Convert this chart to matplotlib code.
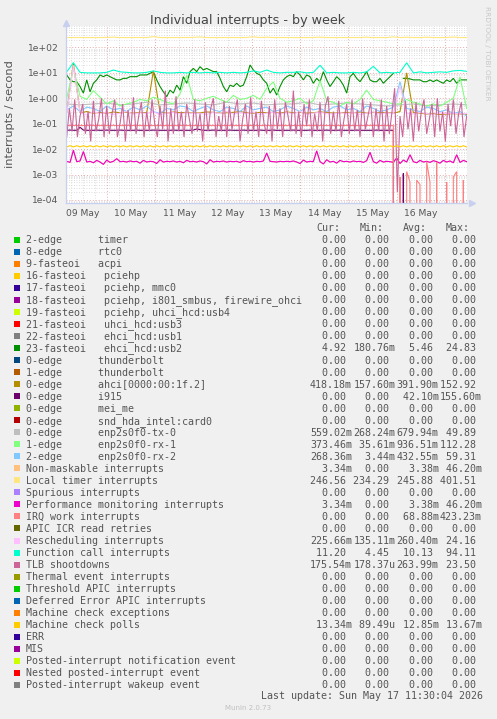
import numpy as np
import matplotlib
matplotlib.use("Agg")
import matplotlib.pyplot as plt
from matplotlib.patches import Rectangle
from matplotlib.ticker import FixedLocator, FuncFormatter, NullFormatter

W, H = 497, 719
nan = float("nan")

# data runs from 09 May ~04:00 to 17 May ~10:45 (x in days since 09 May 00:00)
t_first, t_last = 0.166, 8.447
day_names = ["09 May", "10 May", "11 May", "12 May", "13 May", "14 May", "15 May", "16 May"]

# 23-fasteoi ehci_hcd:usb2
usb2 = [8.3, 5.3, 4.5, 4.5, 2.9, 1.6, 5.3, 1.8, 3.9, 5.3,
        8.3, 7.1, 8.3, 7.1, 6.1, 5.3, 5.3, 6.1, 6.1, 7.1,
        7.1, 7.1, 8.3, 8.3, 8.3, 9.6, 11.2, 5.3, 2.9, 1.8,
        1.16, 2.1, 1.6, 3.3, 2.1, 7.1, 3.9, 11.2, 15.0, 11.2,
        17.6, 13.0, 15.0, 13.0, 11.2, 11.2, 6.1, 2.9, 1.8, 3.3,
        2.9, 3.9, 2.9, 3.3, 7.1, 20.5, 13.0, 9.6, 8.3, 5.3,
        3.9, 1.6, 2.5, 1.35, 2.9, 5.3, 7.1, 8.3, 7.1, 11.2,
        8.3, 5.3, 8.3, 7.1, 3.9, 6.1, 4.5, 11.2, 5.3, 2.9,
        4.5, 7.1, 5.3, 3.3, 1.6, 7.1, 9.6, 6.1, 4.5, 7.1,
        11.2, 5.3, 4.5, 4.5, 6.1, 3.9, 5.3, 7.1, 9.6, nan,
        nan, 6.1, 6.1, 5.8, 5.3, 5.3, 5.3, 4.5, 4.5, 5.3,
        4.5, 5.3, 4.5, 3.9, 5.3, 4.5, 6.1, 3.9, 5.3, 5.3, 5.3]

# ahci[0000:00:1f.2]
ahci = [0.28, 25, 0.27, 0.3, 0.26, 0.28, 0.25, 0.29, 0.27, 0.28,
        0.26, 0.28, 0.27, 12, 0.28, 0.26, 0.29, 0.27, 0.28, 0.26,
        0.27, 0.29, 0.28, 0.26, 0.27, 0.28, 0.3, 0.27, 0.26, 0.28,
        0.27, 0.28, 0.26, 0.29, 0.27, 0.28, 0.26, 0.27, 0.29, 0.28,
        0.26, 0.27, 0.28, 0.27, 0.29, 0.26, 0.28, 0.27, 0.28, 0.26,
        0.3, 10, 0.27, 0.26, 0.24, 0.25, 0.23, 0.24, 0.25, 0.24, 0.23]

# i915
i915 = [0.055, 0.056, 0.055, 0.055, 0.072, 0.056, 0.055, 0.055, 0.055, 0.056,
        0.055, 0.055, 0.056, 0.055, 0.055, 0.055, 0.056, 0.055, 0.055, 0.055,
        0.055, 0.056, 0.055, 0.055, 0.055, 0.055, 0.056, 0.055, 0.055, 0.055,
        0.055, 0.055, 0.056, 0.055, 0.055, 0.055, 0.055, 0.055, 0.056, 0.062,
        0.058, 0.055, 0.055, 0.055, 0.056, 0.055, 0.055, 0.055, 0.055, 0.056,
        0.055, 0.055, 0.055, 0.056, 0.055, 0.055, 0.055, 0.055, 0.056, 0.055,
        0.055, 0.055, 0.056, 0.055, 0.055, 0.055, 0.055, 0.055, 0.056, 0.055,
        0.055, 0.055, 0.055, 0.056, 0.055, 0.055, 0.055, 0.055, 0.056, 0.055,
        0.055, 0.055, 0.056, 0.055, 0.055, 0.055, 0.055, 0.056, 0.055, 0.055,
        0.055, 0.055, 0.055, 0.056, 0.055, 0.055, 0.055, 0.055, 0.055, 0.0,
        0.0, 0.0011, 0.0, 0.0, 0.0, 0.0, 0.0, 0.0, 0.0, 0.0,
        0.0, 0.0, 0.0, 0.0, 0.0, 0.0, 0.0, 0.0, 0.0, 0.0, 0.0]

# enp2s0f0-tx-0 / rx-1 / rx-2
tx0 = [0.6, 0.55, 0.6, 0.65, 0.55, 0.6, 0.7, 0.55, 0.6, 0.65,
       0.6, 0.55, 0.7, 0.6, 0.65, 0.55, 0.6, 0.6, 0.7, 0.55,
       0.6, 0.65, 0.6, 0.55, 0.5, 0.55, 0.6, 0.5, 0.55, 0.6, 0.55]
rx1 = [1.0, 15, 1.2, 0.9, 2.0, 1.1, 0.6, 0.8, 0.5, 0.6,
       0.7, 0.9, 0.8, 1.1, 0.9, 0.7, 0.6, 1.5, 8.0, 0.9,
       0.8, 1.0, 1.2, 0.9, 0.7, 1.3, 0.9, 1.0, 1.3, 0.9,
       2.5, 4.4, 1.0, 0.7, 0.8, 1.0, 0.6, 0.8, 5.0, 0.8,
       0.7, 0.5, 0.7, 0.6, 0.9, 2.1, 0.9, 0.8, 0.7, 0.6,
       0.6, 0.9, 0.7, 0.6, 0.5, 0.6, 0.5, 0.7, 1.0, 7.0, 0.4]
rx2 = [0.35, 0.5, 0.3, 0.45, 0.4, 0.3, 0.5, 0.35, 0.4, 0.3,
       0.45, 0.35, 0.5, 0.3, 0.25, 0.4, 0.35, 0.5, 0.45, 0.3,
       0.4, 0.5, 0.35, 0.3, 0.45, 0.4, 0.3, 0.5, 0.35, 0.4,
       0.45, 0.3, 0.35, 0.5, 0.4, 0.3, 0.45, 0.35, 0.4, 0.3,
       0.45, 0.5, 0.35, 0.4, 0.3, 0.5, 0.4, 0.3, 0.35, 0.45,
       4.5, 0.4, 0.35, 0.3, 0.45, 0.4, 0.3, 0.35, 0.25, 0.3, 0.2]

# Local timer interrupts
loc = [246, 246, 247, 246, 245, 246, 247, 255, 246, 245,
       246, 247, 246, 268, 246, 245, 246, 247, 246, 252,
       258, 246, 245, 246, 247, 246, 246, 248, 262, 246,
       255, 246, 247, 246, 246, 245, 246, 247, 255, 246,
       245, 246, 246, 247, 246, 255, 245, 246, 246, 262,
       246, 255, 246, 246, 255, 246, 246, 247, 258, 246, 246]

# Performance monitoring interrupts (NMI shows the same numbers)
pmi = [0.0033, 0.0030, 0.0090, 0.0032, 0.0034, 0.0080, 0.0031, 0.0033, 0.0029, 0.0036,
       0.0031, 0.0025, 0.0037, 0.0030, 0.0033, 0.0042, 0.0032, 0.0033, 0.0031, 0.0034,
       0.0032, 0.0033, 0.0028, 0.0036, 0.0031, 0.0033, 0.0032, 0.0027, 0.0038, 0.0031,
       0.0033, 0.0032, 0.0034, 0.0031, 0.0033, 0.0029, 0.0036, 0.0032, 0.0033, 0.0031,
       0.0034, 0.0032, 0.0026, 0.0038, 0.0031, 0.0033, 0.0032, 0.0034, 0.0031, 0.0033,
       0.0032, 0.0033, 0.0030, 0.0035, 0.0032, 0.0033, 0.0031, 0.0033, 0.0032, 0.0034,
       0.0070, 0.0033, 0.0032, 0.0031, 0.0033, 0.0032, 0.0033, 0.0032, 0.0034, 0.0031,
       0.0027, 0.0037, 0.0031, 0.0033, 0.0032, 0.0085, 0.0032, 0.0026, 0.0038, 0.0031,
       0.0033, 0.0028, 0.0036, 0.0032, 0.0033, 0.0031, 0.0034, 0.0032, 0.0033, 0.0030,
       0.0035, 0.0075, 0.0032, 0.0028, 0.0036, 0.0031, 0.0033, 0.0032, 0.0030, 0.0045,
       0.0027, 0.0037, 0.0031, 0.0060, 0.0032, 0.0029, 0.0036, 0.0031, 0.0033, 0.0030,
       0.0035, 0.0032, 0.0028, 0.0036, 0.0031, 0.0034, 0.0029, 0.0060, 0.0030, 0.0036, 0.0032]
nmi = pmi

# IRQ work interrupts
irq_work = [0.085, 0.085, 0.086, 0.085, 0.085, 0.085, 0.085, 0.086, 0.085, 0.085,
            0.085, 0.085, 0.085, 0.085, 0.086, 0.085, 0.085, 0.085, 0.085, 0.085,
            0.085, 0.086, 0.085, 0.085, 0.085, 0.085, 0.085, 0.085, 0.086, 0.085,
            0.085, 0.085, 0.085, 0.085, 0.085, 0.086, 0.085, 0.085, 0.085, 0.085,
            0.085, 0.085, 0.086, 0.085, 0.085, 0.085, 0.085, 0.085, 0.085, 0.086,
            0.085, 0.085, 0.085, 0.085, 0.085, 0.085, 0.086, 0.085, 0.085, 0.085,
            0.085, 0.085, 0.085, 0.086, 0.085, 0.085, 0.085, 0.085, 0.085, 0.085,
            0.086, 0.085, 0.085, 0.085, 0.085, 0.085, 0.085, 0.086, 0.085, 0.085,
            0.085, 0.085, 0.085, 0.085, 0.086, 0.085, 0.085, 0.085, 0.085, 0.085,
            0.085, 0.086, 0.085, 0.085, 0.085, 0.085, 0.085, 0.085, 0.085, 0.0,
            0.0008, 0.0, 0.0013, 0.0005, 0.0, 0.0006, 0.0004, 0.0, 0.0032, 0.0005,
            0.0, 0.003, 0.0, 0.0, 0.0005, 0.0, 0.0008, 0.0013, 0.0, 0.0006, 0.0]

# Rescheduling interrupts
resched = [0.25, 20, 0.28, 0.22, 0.3, 0.25, 0.27, 0.23, 0.26, 0.3,
           0.24, 0.27, 0.25, 0.3, 0.22, 0.26, 0.28, 0.24, 0.27, 0.25,
           0.26, 0.23, 0.28, 0.25, 0.3, 0.24, 0.27, 0.25, 0.29, 0.23,
           0.26, 0.28, 0.24, 0.27, 0.25, 0.3, 0.23, 0.26, 0.28, 0.25,
           0.24, 0.27, 0.25, 0.28, 0.23, 0.26, 0.29, 0.24, 0.27, 0.25,
           3.0, 0.26, 0.24, 0.28, 0.25, 0.23, 0.27, 0.25, 0.26, 0.24, 0.25]

# Function call interrupts
fcall = [11, 25, 10.5, 10, 10, 10, 10.5, 13, 11, 10.5,
         10, 10, 10.5, 12, 10.5, 10, 10, 10.5, 10, 10.5,
         10, 10.5, 10, 10.5, 10, 10.5, 10, 10.5, 12, 10.5,
         13, 10.5, 10, 10.5, 10.5, 11, 10, 10.5, 20, 10,
         10.5, 10, 10, 10.5, 10, 11, 18, 10, 10.5, 10,
         10.5, 25, 10, 11, 10, 10.5, 11, 10.5, 12, 12.5, 11.5]

# TLB shootdowns
tlb = [0.03, 0.4, 0.05, 0.9, 0.03, 0.2, 0.6, 0.04, 0.3, 0.02,
       0.8, 0.05, 0.15, 1.0, 0.03, 0.5, 0.04, 0.25, 0.9, 0.03,
       0.1, 0.6, 0.02, 0.35, 0.05, 1.1, 0.04, 0.2, 0.7, 0.03,
       0.3, 0.05, 0.9, 0.1, 0.03, 0.5, 0.06, 2.0, 0.02, 0.4,
       0.04, 1.2, 0.05, 0.3, 0.03, 0.6, 0.15, 0.04, 0.9, 0.05,
       0.25, 0.02, 0.7, 0.05, 0.4, 1.0, 0.03, 0.2, 0.05, 0.8,
       0.03, 0.5, 0.06, 0.3, 0.9, 0.02, 0.15, 0.6, 0.04, 1.1,
       0.05, 0.3, 0.03, 0.8, 0.1, 0.04, 0.5, 0.02, 0.9, 0.06,
       0.4, 0.03, 0.7, 0.2, 0.05, 2.0, 0.04, 0.3, 0.03, 0.6,
       0.08, 0.9, 0.03, 0.25, 0.05, 0.7, 0.02, 0.5, 1.2, 0.04,
       0.3, 0.05, 0.8, 0.03, 0.15, 0.6, 0.04, 0.9, 0.05, 0.35,
       0.03, 1.0, 0.06, 0.2, 0.7, 0.03, 0.4, 0.05, 0.9, 0.02,
       0.5, 0.04, 0.3, 2.5, 0.0002, 0.2, 0.03, 0.8, 0.06, 0.4,
       0.02, 0.7, 0.05, 0.3, 0.9, 0.04, 0.15, 0.6, 0.03, 1.0,
       0.05, 0.3, 0.02, 0.6, 0.08, 0.9, 0.04, 0.25, 0.7, 0.03, 0.2]

# Machine check polls
mcp = [0.0122, 0.0136, 0.0122, 0.0136, 0.0122, 0.0136, 0.0122, 0.0136, 0.0122, 0.0136,
       0.0122, 0.0136, 0.0122, 0.0136, 0.0122, 0.0136, 0.0122, 0.0136, 0.0122, 0.0136,
       0.0122, 0.0136, 0.0122, 0.0136, 0.0122, 0.0136, 0.0122, 0.0136, 0.0122, 0.0136,
       0.0122, 0.0136, 0.0122, 0.0136, 0.0122, 0.0136, 0.0122, 0.0136, 0.0122, 0.0136,
       0.0122, 0.0136, 0.0122, 0.0136, 0.0122, 0.0136, 0.0122, 0.0136, 0.0122, 0.0136,
       0.0122, 0.0136, 0.0122, 0.0136, 0.0122, 0.0136, 0.0122, 0.0136, 0.0122, 0.0136,
       0.0122, 0.0136, 0.0122, 0.0136, 0.0122, 0.0136, 0.0122, 0.0136, 0.0122, 0.0136,
       0.0122, 0.0136, 0.0122, 0.0136, 0.0122, 0.0136, 0.0122, 0.0136, 0.0122, 0.0136,
       0.0122, 0.0136, 0.0122, 0.0136, 0.0122, 0.0136, 0.0122, 0.0136, 0.0122, 0.0136,
       0.0122, 0.0136, 0.0122, 0.0136, 0.0122, 0.0136, 0.0122, 0.0136, 0.0122, 0.0136,
       0.0122, 0.0136, 0.0122, 0.0136, 0.0122, 0.0136, 0.0122, 0.0136, 0.0122, 0.0136,
       0.0122, 0.0136, 0.0122, 0.0136, 0.0122, 0.0136, 0.0122, 0.0136, 0.0122, 0.0136, 0.0122]

# legend table
leg_names = ["2-edge      timer", "8-edge      rtc0", "9-fasteoi   acpi",
             "16-fasteoi   pciehp", "17-fasteoi   pciehp, mmc0",
             "18-fasteoi   pciehp, i801_smbus, firewire_ohci",
             "19-fasteoi   pciehp, uhci_hcd:usb4", "21-fasteoi   uhci_hcd:usb3",
             "22-fasteoi   ehci_hcd:usb1", "23-fasteoi   ehci_hcd:usb2",
             "0-edge      thunderbolt", "1-edge      thunderbolt",
             "0-edge      ahci[0000:00:1f.2]", "0-edge      i915", "0-edge      mei_me",
             "0-edge      snd_hda_intel:card0", "0-edge      enp2s0f0-tx-0",
             "1-edge      enp2s0f0-rx-1", "2-edge      enp2s0f0-rx-2",
             "Non-maskable interrupts", "Local timer interrupts", "Spurious interrupts",
             "Performance monitoring interrupts", "IRQ work interrupts",
             "APIC ICR read retries", "Rescheduling interrupts", "Function call interrupts",
             "TLB shootdowns", "Thermal event interrupts", "Threshold APIC interrupts",
             "Deferred Error APIC interrupts", "Machine check exceptions",
             "Machine check polls", "ERR", "MIS", "Posted-interrupt notification event",
             "Nested posted-interrupt event", "Posted-interrupt wakeup event"]
leg_colors = ["#00CC00", "#0066B3", "#FF8000", "#FFCC00", "#330099", "#990099", "#CCFF00",
              "#FF0000", "#808080", "#008F00", "#00487D", "#B35A00", "#B38F00", "#6B006B",
              "#8FB300", "#B30000", "#BEBEBE", "#80FF80", "#80C9FF", "#FFC080", "#FFE680",
              "#AA80FF", "#EE00CC", "#FF8080", "#666600", "#FFBFFF", "#00FFCC", "#CC6699",
              "#999900", "#00CC00", "#0066B3", "#FF8000", "#FFCC00", "#330099", "#990099",
              "#CCFF00", "#FF0000", "#808080"]
z = "0.00"
cur_vals = [z]*9 + ["4.92", z, z, "418.18m", z, z, z, "559.02m", "373.46m", "268.36m",
            "3.34m", "246.56", z, "3.34m", z, z, "225.66m", "11.20", "175.54m",
            z, z, z, z, "13.34m", z, z, z, z, z]
min_vals = [z]*9 + ["180.76m", z, z, "157.60m", z, z, z, "268.24m", "35.61m", "3.44m",
            z, "234.29", z, z, z, z, "135.11m", "4.45", "178.37u",
            z, z, z, z, "89.49u", z, z, z, z, z]
avg_vals = [z]*9 + ["5.46", z, z, "391.90m", "42.10m", z, z, "679.94m", "936.51m", "432.55m",
            "3.38m", "245.88", z, "3.38m", "68.88m", z, "260.40m", "10.13", "263.99m",
            z, z, z, z, "12.85m", z, z, z, z, z]
max_vals = [z]*9 + ["24.83", z, z, "152.92", "155.60m", z, z, "49.89", "112.28", "59.31",
            "46.20m", "401.51", z, "46.20m", "423.23m", z, "24.16", "94.11", "23.50",
            z, z, z, z, "13.67m", z, z, z, z, z]

plt.rcParams['font.family'] = 'DejaVu Sans'
fig = plt.figure(figsize=(W/100, H/100), dpi=100, facecolor='#F0F0F0')

# plot area in pixels
L, R, T, B = 66, 467, 26, 202.7
ax = fig.add_axes([L/W, 1-B/H, (R-L)/W, (B-T)/H])
ax.set_facecolor('white')

def draw(vals, color):
    t = np.linspace(t_first, t_last, len(vals))
    ax.plot(t, vals, color=color, lw=0.8, solid_joinstyle='miter')

draw(usb2, "#008F00")
draw(ahci, "#B38F00")
draw(i915, "#6B006B")
draw(tx0, "#BEBEBE")
draw(rx1, "#80FF80")
draw(rx2, "#80C9FF")
draw(nmi, "#FFC080")
draw(loc, "#FFE680")
draw(pmi, "#EE00CC")
draw(irq_work, "#FF8080")
draw(resched, "#FFBFFF")
draw(fcall, "#00FFCC")
draw(tlb, "#CC6699")
draw(mcp, "#FFCC00")

ax.set_yscale('log', nonpositive='clip')
ax.set_ylim(10**-4.11, 10**2.846)
ax.set_xlim(0.151, 8.454)

dec = [1e-4, 1e-3, 1e-2, 1e-1, 1e0, 1e1, 1e2]
ax.yaxis.set_major_locator(FixedLocator(dec))
ax.yaxis.set_major_formatter(FuncFormatter(lambda v, p: "%.0e" % v))
ax.yaxis.set_minor_locator(FixedLocator([m*d for d in dec + [1e-5] for m in range(2, 10)]))
ax.yaxis.set_minor_formatter(NullFormatter())

midnights = list(range(1, 9))
quarters = [d + q for d in range(0, 9) for q in (0.25, 0.5, 0.75)]
ax.xaxis.set_major_locator(FixedLocator(midnights))
ax.xaxis.set_major_formatter(NullFormatter())
ax.xaxis.set_minor_locator(FixedLocator(quarters))
ax.xaxis.set_minor_formatter(FuncFormatter(
    lambda v, p: day_names[int(v)] if abs(v - int(v) - 0.5) < 1e-6 and int(v) < len(day_names) else ""))

ax.grid(which='major', color='#E8A8A8', ls=(0, (1, 2)), lw=0.7)
ax.grid(which='minor', color='#D4D4D4', ls=(0, (1, 2)), lw=0.6)
ax.set_axisbelow(True)

ax.tick_params(which='both', length=0, colors='#555555', labelsize=6.6)
ax.tick_params(axis='y', pad=5.5)
ax.tick_params(axis='x', which='minor', pad=4.5)

for s in ('top', 'right'):
    ax.spines[s].set_visible(False)
for s in ('left', 'bottom'):
    ax.spines[s].set_color('#C8D0F0')
    ax.spines[s].set_linewidth(0.9)
ax.plot([1.0 + 5/401], [0], marker='>', ms=4, color='#C8D0F0', transform=ax.transAxes, clip_on=False)
ax.plot([0], [1.0 + 3/177], marker='^', ms=4, color='#C8D0F0', transform=ax.transAxes, clip_on=False)

def fx(x):
    return x / W

def fy(y):
    return 1 - y / H

fig.text(fx(248), fy(24), "Individual interrupts - by week", ha='center', va='baseline',
         fontsize=9.2, color='#444444')
fig.text(fx(10), fy(114.5), "interrupts / second", rotation=90, ha='center', va='center',
         fontsize=8.2, color='#555555')
fig.text(fx(487), fy(53.5), "RRDTOOL / TOBI OETIKER", rotation=270, ha='center', va='center',
         fontsize=5.3, color='#C8C8C8')

mono = 'DejaVu Sans Mono'
fs = 7.2
col_x = [310, 353.3, 396.6, 439.9]
for cx, hdr in zip(col_x, ["Cur:", "Min:", "Avg:", "Max:"]):
    fig.text(fx(cx + 6), fy(230.7), hdr, family=mono, fontsize=fs, color='#555555', va='baseline')

def fmt(s):
    if s[-1] in "mu":
        return s[:-1].rjust(6) + s[-1]
    return s.rjust(6) + " "

for i, name in enumerate(leg_names):
    base = 243.3 + 12.02 * i
    fig.add_artist(Rectangle((fx(14), fy(base - 0.3)), 6/W, 6/H, transform=fig.transFigure,
                             color=leg_colors[i], lw=0))
    fig.text(fx(26), fy(base), name, family=mono, fontsize=fs, color='#555555', va='baseline')
    for cx, col in zip(col_x, [cur_vals, min_vals, avg_vals, max_vals]):
        fig.text(fx(cx), fy(base), fmt(col[i]), family=mono, fontsize=fs, color='#555555',
                 va='baseline')

fig.text(fx(483), fy(699), "Last update: Sun May 17 11:30:04 2026", family=mono, fontsize=fs,
         color='#555555', ha='right', va='baseline')
fig.text(fx(248), fy(708.5), "Munin 2.0.73", fontsize=5.0, color='#C0C0C0', ha='center', va='center')

fig.savefig("out.png", dpi=100, facecolor=fig.get_facecolor())
